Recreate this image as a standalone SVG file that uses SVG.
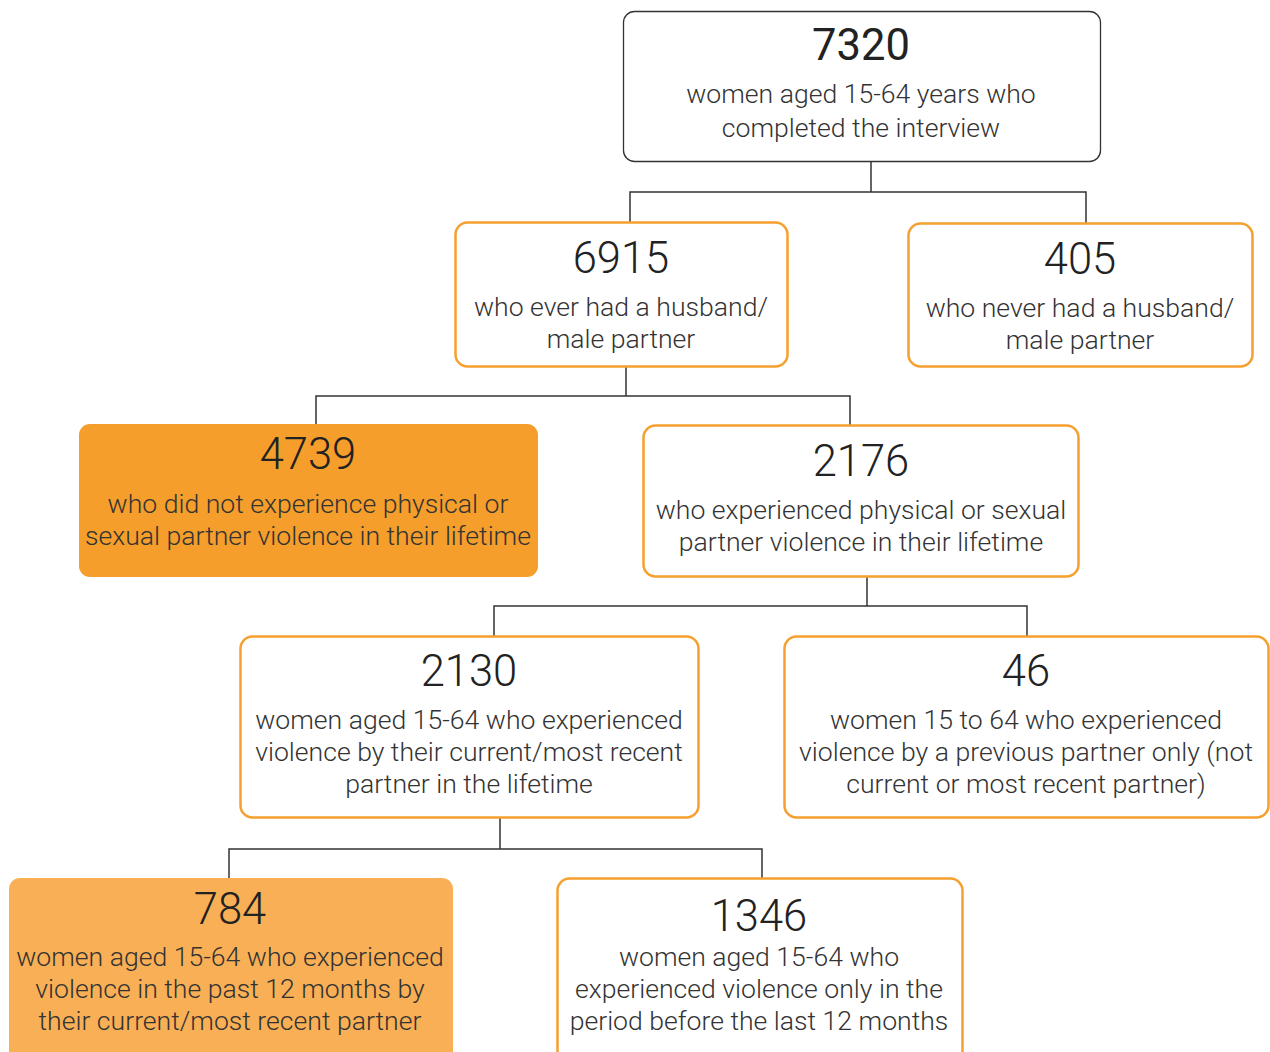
<svg xmlns="http://www.w3.org/2000/svg" width="1270" height="1052" viewBox="0 0 1270 1052">
<style>
.box{fill:#fff;stroke:#F5A02F;stroke-width:2.5}
.top{fill:#fff;stroke:#333;stroke-width:1.3}
.dark{fill:#F59E2B;stroke:none}
.light{fill:#F8AF55;stroke:none}
.num{font-family:Roboto,"Liberation Sans",sans-serif;font-weight:300;font-size:43.5px;fill:#222;text-anchor:middle}
.num7{font-weight:400}
.t{font-family:Roboto,"Liberation Sans",sans-serif;font-weight:300;font-size:26.6px;fill:#333;text-anchor:middle}
.conn{fill:none;stroke:#333;stroke-width:1.5}
</style>
<rect width="1270" height="1052" fill="#fff"/>
<g id="connectors">
<path class="conn" d="M871 161V192M630 222V192H1086V223"/>
<path class="conn" d="M626 367V396M316 424V396H850V425"/>
<path class="conn" d="M867 577V606M494 636V606H1027V636"/>
<path class="conn" d="M500 818V849M229 878V849H762V878"/>
</g>
<g id="n7320">
<rect class="top" x="623.5" y="11.5" width="477" height="150" rx="11"/>
<text class="num num7" x="861" y="60">7320</text>
<text class="t" x="861" y="103">women aged 15-64 years who</text>
<text class="t" x="861" y="137">completed the interview</text>
</g>
<g id="n6915">
<rect class="box" x="455.5" y="222.5" width="332" height="144" rx="12"/>
<text class="num" x="621" y="273">6915</text>
<text class="t" x="621" y="316">who ever had a husband/</text>
<text class="t" x="621" y="348">male partner</text>
</g>
<g id="n405">
<rect class="box" x="908.5" y="223.5" width="344" height="143" rx="12"/>
<text class="num" x="1080" y="274">405</text>
<text class="t" x="1080" y="317">who never had a husband/</text>
<text class="t" x="1080" y="349">male partner</text>
</g>
<g id="n4739">
<rect class="dark" x="79" y="424" width="459" height="153" rx="11"/>
<text class="num" x="308" y="469">4739</text>
<text class="t" x="308" y="513">who did not experience physical or</text>
<text class="t" x="308" y="545">sexual partner violence in their lifetime</text>
</g>
<g id="n2176">
<rect class="box" x="643.5" y="425.5" width="435" height="151" rx="12"/>
<text class="num" x="861" y="476">2176</text>
<text class="t" x="861" y="519">who experienced physical or sexual</text>
<text class="t" x="861" y="551">partner violence in their lifetime</text>
</g>
<g id="n2130">
<rect class="box" x="240.5" y="636.5" width="458" height="181" rx="12"/>
<text class="num" x="469" y="686">2130</text>
<text class="t" x="469" y="729">women aged 15-64 who experienced</text>
<text class="t" x="469" y="761">violence by their current/most recent</text>
<text class="t" x="469" y="793">partner in the lifetime</text>
</g>
<g id="n46">
<rect class="box" x="784.5" y="636.5" width="484" height="181" rx="12"/>
<text class="num" x="1026" y="686">46</text>
<text class="t" x="1026" y="729">women 15 to 64 who experienced</text>
<text class="t" x="1026" y="761">violence by a previous partner only (not</text>
<text class="t" x="1026" y="793">current or most recent partner)</text>
</g>
<g id="n784">
<rect class="light" x="9" y="878" width="444" height="190" rx="11"/>
<text class="num" x="230" y="924">784</text>
<text class="t" x="230" y="966">women aged 15-64 who experienced</text>
<text class="t" x="230" y="998">violence in the past 12 months by</text>
<text class="t" x="230" y="1030">their current/most recent partner</text>
</g>
<g id="n1346">
<rect class="box" x="557.5" y="878.5" width="405" height="190" rx="12"/>
<text class="num" x="759" y="931">1346</text>
<text class="t" x="759" y="966">women aged 15-64 who</text>
<text class="t" x="759" y="998">experienced violence only in the</text>
<text class="t" x="759" y="1030">period before the last 12 months</text>
</g>
</svg>
